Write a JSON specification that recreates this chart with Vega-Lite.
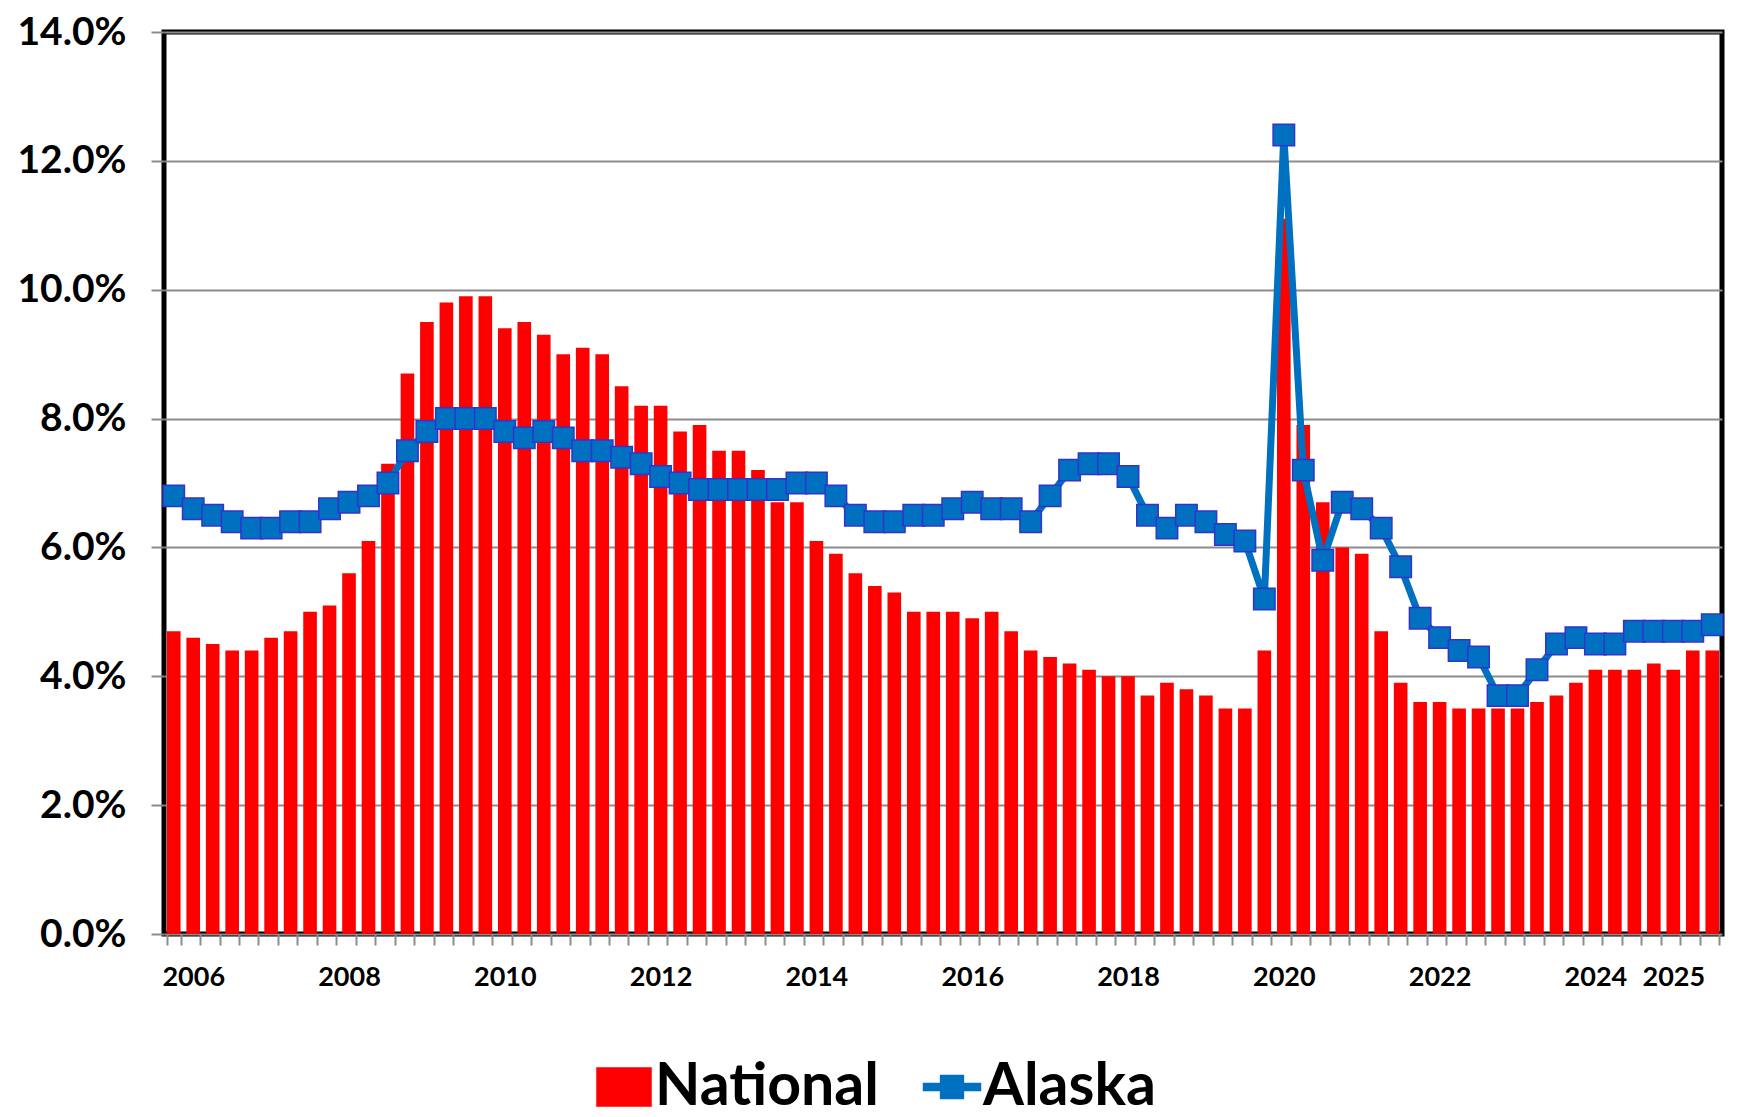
{
  "$schema": "https://vega.github.io/schema/vega-lite/v6.json",
  "width": 1558,
  "height": 902,
  "autosize": {"type": "none"},
  "padding": {"left": 164, "top": 32, "right": 19, "bottom": 183},
  "background": "white",
  "config": {
    "font": "Lato",
    "view": {"stroke": "black", "strokeWidth": 5}
  },
  "data": {
    "values": [
      {"q": "2006 Q1", "national": 4.7, "alaska": 6.8},
      {"q": "2006 Q2", "national": 4.6, "alaska": 6.6},
      {"q": "2006 Q3", "national": 4.5, "alaska": 6.5},
      {"q": "2006 Q4", "national": 4.4, "alaska": 6.4},
      {"q": "2007 Q1", "national": 4.4, "alaska": 6.3},
      {"q": "2007 Q2", "national": 4.6, "alaska": 6.3},
      {"q": "2007 Q3", "national": 4.7, "alaska": 6.4},
      {"q": "2007 Q4", "national": 5.0, "alaska": 6.4},
      {"q": "2008 Q1", "national": 5.1, "alaska": 6.6},
      {"q": "2008 Q2", "national": 5.6, "alaska": 6.7},
      {"q": "2008 Q3", "national": 6.1, "alaska": 6.8},
      {"q": "2008 Q4", "national": 7.3, "alaska": 7.0},
      {"q": "2009 Q1", "national": 8.7, "alaska": 7.5},
      {"q": "2009 Q2", "national": 9.5, "alaska": 7.8},
      {"q": "2009 Q3", "national": 9.8, "alaska": 8.0},
      {"q": "2009 Q4", "national": 9.9, "alaska": 8.0},
      {"q": "2010 Q1", "national": 9.9, "alaska": 8.0},
      {"q": "2010 Q2", "national": 9.4, "alaska": 7.8},
      {"q": "2010 Q3", "national": 9.5, "alaska": 7.7},
      {"q": "2010 Q4", "national": 9.3, "alaska": 7.8},
      {"q": "2011 Q1", "national": 9.0, "alaska": 7.7},
      {"q": "2011 Q2", "national": 9.1, "alaska": 7.5},
      {"q": "2011 Q3", "national": 9.0, "alaska": 7.5},
      {"q": "2011 Q4", "national": 8.5, "alaska": 7.4},
      {"q": "2012 Q1", "national": 8.2, "alaska": 7.3},
      {"q": "2012 Q2", "national": 8.2, "alaska": 7.1},
      {"q": "2012 Q3", "national": 7.8, "alaska": 7.0},
      {"q": "2012 Q4", "national": 7.9, "alaska": 6.9},
      {"q": "2013 Q1", "national": 7.5, "alaska": 6.9},
      {"q": "2013 Q2", "national": 7.5, "alaska": 6.9},
      {"q": "2013 Q3", "national": 7.2, "alaska": 6.9},
      {"q": "2013 Q4", "national": 6.7, "alaska": 6.9},
      {"q": "2014 Q1", "national": 6.7, "alaska": 7.0},
      {"q": "2014 Q2", "national": 6.1, "alaska": 7.0},
      {"q": "2014 Q3", "national": 5.9, "alaska": 6.8},
      {"q": "2014 Q4", "national": 5.6, "alaska": 6.5},
      {"q": "2015 Q1", "national": 5.4, "alaska": 6.4},
      {"q": "2015 Q2", "national": 5.3, "alaska": 6.4},
      {"q": "2015 Q3", "national": 5.0, "alaska": 6.5},
      {"q": "2015 Q4", "national": 5.0, "alaska": 6.5},
      {"q": "2016 Q1", "national": 5.0, "alaska": 6.6},
      {"q": "2016 Q2", "national": 4.9, "alaska": 6.7},
      {"q": "2016 Q3", "national": 5.0, "alaska": 6.6},
      {"q": "2016 Q4", "national": 4.7, "alaska": 6.6},
      {"q": "2017 Q1", "national": 4.4, "alaska": 6.4},
      {"q": "2017 Q2", "national": 4.3, "alaska": 6.8},
      {"q": "2017 Q3", "national": 4.2, "alaska": 7.2},
      {"q": "2017 Q4", "national": 4.1, "alaska": 7.3},
      {"q": "2018 Q1", "national": 4.0, "alaska": 7.3},
      {"q": "2018 Q2", "national": 4.0, "alaska": 7.1},
      {"q": "2018 Q3", "national": 3.7, "alaska": 6.5},
      {"q": "2018 Q4", "national": 3.9, "alaska": 6.3},
      {"q": "2019 Q1", "national": 3.8, "alaska": 6.5},
      {"q": "2019 Q2", "national": 3.7, "alaska": 6.4},
      {"q": "2019 Q3", "national": 3.5, "alaska": 6.2},
      {"q": "2019 Q4", "national": 3.5, "alaska": 6.1},
      {"q": "2020 Q1", "national": 4.4, "alaska": 5.2},
      {"q": "2020 Q2", "national": 11.1, "alaska": 12.4},
      {"q": "2020 Q3", "national": 7.9, "alaska": 7.2},
      {"q": "2020 Q4", "national": 6.7, "alaska": 5.8},
      {"q": "2021 Q1", "national": 6.0, "alaska": 6.7},
      {"q": "2021 Q2", "national": 5.9, "alaska": 6.6},
      {"q": "2021 Q3", "national": 4.7, "alaska": 6.3},
      {"q": "2021 Q4", "national": 3.9, "alaska": 5.7},
      {"q": "2022 Q1", "national": 3.6, "alaska": 4.9},
      {"q": "2022 Q2", "national": 3.6, "alaska": 4.6},
      {"q": "2022 Q3", "national": 3.5, "alaska": 4.4},
      {"q": "2022 Q4", "national": 3.5, "alaska": 4.3},
      {"q": "2023 Q1", "national": 3.5, "alaska": 3.7},
      {"q": "2023 Q2", "national": 3.5, "alaska": 3.7},
      {"q": "2023 Q3", "national": 3.6, "alaska": 4.1},
      {"q": "2023 Q4", "national": 3.7, "alaska": 4.5},
      {"q": "2024 Q1", "national": 3.9, "alaska": 4.6},
      {"q": "2024 Q2", "national": 4.1, "alaska": 4.5},
      {"q": "2024 Q3", "national": 4.1, "alaska": 4.5},
      {"q": "2024 Q4", "national": 4.1, "alaska": 4.7},
      {"q": "2025 Q1", "national": 4.2, "alaska": 4.7},
      {"q": "2025 Q2", "national": 4.1, "alaska": 4.7},
      {"q": "2025 Q3", "national": 4.4, "alaska": 4.7},
      {"q": "2025 Q4", "national": 4.4, "alaska": 4.8}
    ]
  },
  "encoding": {
    "x": {
      "field": "q",
      "type": "ordinal",
      "sort": null,
      "scale": {"paddingInner": 0.3, "paddingOuter": 0.15},
      "axis": {
        "title": null,
        "labelAngle": 0,
        "labelFont": "Lato",
        "labelFontSize": 27,
        "labelFontWeight": "bold",
        "labelColor": "black",
        "labelPadding": 19,
        "labelOverlap": false,
        "tickBand": "extent",
        "tickColor": "#8c8c8c",
        "tickWidth": 2,
        "tickSize": 11,
        "domain": false,
        "grid": false,
        "labelExpr": "indexof(['2006 Q2','2008 Q2','2010 Q2','2012 Q2','2014 Q2','2016 Q2','2018 Q2','2020 Q2','2022 Q2','2024 Q2','2025 Q2'], datum.value) >= 0 ? slice(datum.value, 0, 4) : ''"
      }
    }
  },
  "layer": [
    {
      "mark": {"type": "bar", "color": "#FF0000"},
      "encoding": {
        "y": {
          "field": "national",
          "type": "quantitative",
          "title": null,
          "scale": {"domain": [0, 14], "nice": false},
          "axis": {
            "title": null,
            "values": [0, 2, 4, 6, 8, 10, 12, 14],
            "labelExpr": "format(datum.value, '.1f') + '%'",
            "labelFont": "Lato",
            "labelFontSize": 39,
            "labelFontWeight": "bold",
            "labelColor": "black",
            "labelPadding": 25,
            "tickSize": 13,
            "tickColor": "#8c8c8c",
            "tickWidth": 2,
            "grid": true,
            "gridColor": "#8c8c8c",
            "gridWidth": 2,
            "domain": false
          }
        },
        "color": {
          "datum": "National",
          "type": "nominal",
          "scale": {"domain": ["National", "Alaska"], "range": ["#FF0000", "#0070C0"]},
          "legend": {
            "title": null,
            "orient": "none",
            "legendX": 429,
            "legendY": 1024,
            "direction": "horizontal",
            "labelFont": "Lato",
            "labelFontSize": 59,
            "labelFontWeight": "bold",
            "labelColor": "black",
            "labelLimit": 500,
            "labelOffset": 0,
            "symbolSize": 3600,
            "columnPadding": 41,
            "padding": 0,
            "encode": {
              "symbols": {
                "update": {
                  "shape": {"signal": "datum.value === 'Alaska' ? 'M-0.95,-0.12H-0.38V-0.38H0.38V-0.12H0.95V0.12H0.38V0.38H-0.38V0.12H-0.95Z' : 'M-0.9,-0.63H0.9V0.63H-0.9Z'"},
                  "fill": {"signal": "datum.value === 'Alaska' ? '#0070C0' : '#FF0000'"},
                  "stroke": {"signal": "datum.value === 'Alaska' ? '#3333CC' : '#FF0000'"},
                  "strokeWidth": {"value": 1.5},
                  "opacity": {"value": 1},
                  "fillOpacity": {"value": 1},
                  "size": {"value": 3600}
                }
              }
            }
          }
        }
      }
    },
    {
      "mark": {"type": "line", "strokeWidth": 7, "strokeJoin": "round", "strokeCap": "round"},
      "encoding": {
        "y": {"field": "alaska", "type": "quantitative", "title": null},
        "color": {"datum": "Alaska", "type": "nominal"}
      }
    },
    {
      "mark": {"type": "point", "shape": "square", "size": 460, "filled": true, "fill": "#0070C0", "stroke": "#3333CC", "strokeWidth": 1.5, "opacity": 1},
      "encoding": {
        "y": {"field": "alaska", "type": "quantitative", "title": null}
      }
    }
  ]
}
